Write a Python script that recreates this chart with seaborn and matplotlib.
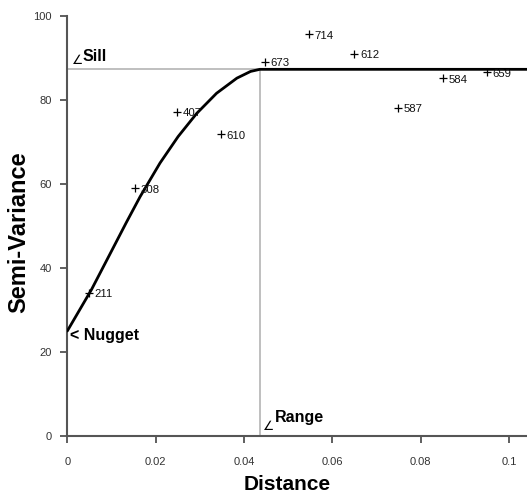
import matplotlib
matplotlib.use("Agg")
import matplotlib.pyplot as plt
from matplotlib import font_manager
import seaborn as sns
import pandas as pd

# Experimental semivariogram points (lag distance, semivariance, pair count)
distance = [0.0049, 0.0153, 0.0248, 0.0348, 0.0448, 0.0548, 0.0650, 0.0748, 0.0850, 0.0950]
semivar = [34.1, 59.0, 77.2, 71.8, 89.1, 95.7, 91.0, 78.2, 85.2, 86.7]
pairs = ["211", "308", "407", "610", "673", "714", "612", "587", "584", "659"]

# Fitted model curve
model_dist = [0.0, 0.0055, 0.0097, 0.0134, 0.0165, 0.0210, 0.0251, 0.0293, 0.0338,
              0.0384, 0.0415, 0.0436, 0.1041]
model_semivar = [25.0, 34.9, 43.4, 50.9, 57.0, 65.0, 71.3, 76.8, 81.6,
                 85.2, 86.8, 87.3, 87.3]

nugget = 25.0
sill = 87.3
range_ = 0.0436

x_ticks = [0, 0.02, 0.04, 0.06, 0.08, 0.1]
x_ticklabels = ["0", "0.02", "0.04", "0.06", "0.08", "0.1"]
y_ticks = [0, 20, 40, 60, 80, 100]

sns.set_style("ticks")
names = {f.name for f in font_manager.fontManager.ttflist}
narrow = "Liberation Sans Narrow" if "Liberation Sans Narrow" in names else "Liberation Sans"
ann_size = 13 if narrow == "Liberation Sans Narrow" else 11.5
plt.rcParams["font.family"] = ["Liberation Sans", "DejaVu Sans"]
plt.rcParams["text.color"] = "black"
plt.rcParams["axes.labelcolor"] = "black"

fig = plt.figure(figsize=(5.27, 4.95), dpi=100)
ax = fig.add_axes([0.1277, 0.1192, 0.8723, 0.8485])

pts = pd.DataFrame({"distance": distance, "semivar": semivar, "pairs": pairs})
model = pd.DataFrame({"distance": model_dist, "semivar": model_semivar})

# sill / range guide lines
ax.plot([0, range_], [sill, sill], color="#b4b4b4", lw=1.2, zorder=1)
ax.plot([range_, range_], [0, sill], color="#b4b4b4", lw=1.2, zorder=1)

sns.lineplot(data=model, x="distance", y="semivar", ax=ax, color="black",
             linewidth=2.0, sort=False, zorder=3)
sns.scatterplot(data=pts, x="distance", y="semivar", ax=ax, marker="+",
                color="black", s=30, linewidth=0.9, zorder=4)
for d, v, p in zip(distance, semivar, pairs):
    ax.annotate(p, (d, v), xytext=(4, -1.2), textcoords="offset points",
                fontsize=8.2, va="center", ha="left", color="#111111", zorder=4)

# annotations
ax.text(0.0010, sill + 0.6, "∠", fontsize=9, family="DejaVu Sans", va="bottom", ha="left")
ax.text(0.0034, sill + 1.3, "Sill", fontsize=ann_size, family=narrow, fontweight="bold",
        va="bottom", ha="left")
ax.text(0.0007, nugget - 1.0, "< Nugget", fontsize=ann_size, family=narrow, fontweight="bold",
        va="center", ha="left")
ax.text(range_ + 0.0007, 0.6, "∠", fontsize=9, family="DejaVu Sans", va="bottom", ha="left")
ax.text(range_ + 0.0034, 2.6, "Range", fontsize=ann_size, family=narrow, fontweight="bold",
        va="bottom", ha="left")

ax.set_xlim(0, 0.1041)
ax.set_ylim(0, 100)
ax.set_xticks(x_ticks)
ax.set_xticklabels(x_ticklabels)
ax.set_yticks(y_ticks)
ax.tick_params(axis="both", direction="out", length=5, width=1.2, colors="#444444",
               labelsize=8, labelcolor="#333333")
ax.tick_params(axis="y", pad=6)
ax.tick_params(axis="x", pad=10)

for s in ["top", "right"]:
    ax.spines[s].set_visible(False)
for s in ["left", "bottom"]:
    ax.spines[s].set_color("#555555")
    ax.spines[s].set_linewidth(1.5)

ax.set_xlabel("Distance", fontsize=15, fontweight="bold", color="black")
ax.set_ylabel("Semi-Variance", fontsize=17, fontweight="bold", color="black")
ax.xaxis.set_label_coords(0.479, -0.093)
ax.yaxis.set_label_coords(-0.080, 0.486)

fig.savefig("out.png", dpi=100)
